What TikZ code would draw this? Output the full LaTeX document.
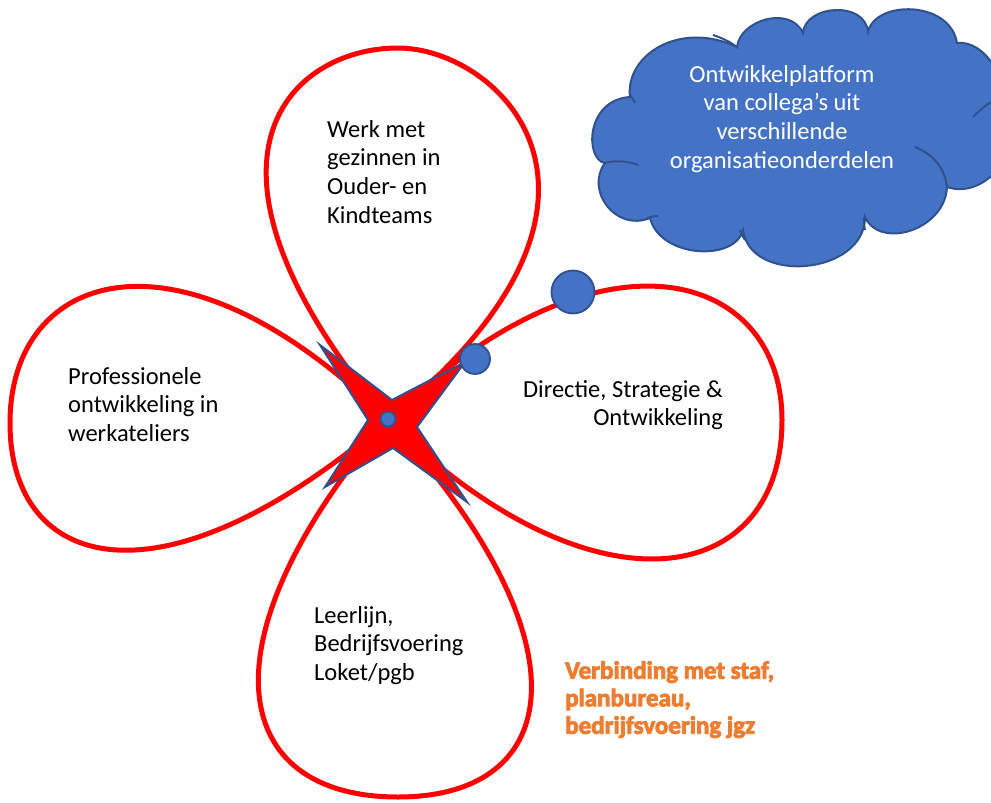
\documentclass[tikz,border=0pt]{standalone}
\usepackage{fontspec}
\setmainfont{Carlito}
\newfontfamily\heavyfont{Carlito}[BoldFeatures={FakeBold=3.5}]
\definecolor{lusblue}{HTML}{4472C4}
\definecolor{lusedge}{HTML}{2F528F}
\definecolor{lusorange}{HTML}{ED7D31}
\begin{document}
\begin{tikzpicture}[x=1pt,y=-1pt,
    petal/.style={draw=red,line width=5pt},
    ster/.style={fill=red,draw=lusedge,line width=2pt,line join=miter},
    knop/.style={circle,fill=lusblue,draw=lusedge,line width=1.8pt,inner sep=0pt},
    txt/.style={inner sep=0pt,font=\fontsize{24.5}{28.7}\selectfont}]
  \useasboundingbox (0,0) rectangle (991,803);
  \coordinate (C) at (388,420);
  % four loops meeting in the middle
  \draw[petal] (C) .. controls (170,160) and (290,48) .. (398,48)
                   .. controls (500,48) and (660,200) .. (C);
  \draw[petal] (C) .. controls (180,215) and (10,270) .. (10,423)
                   .. controls (10,570) and (160,615) .. (C);
  \draw[petal] (C) .. controls (600,215) and (782,270) .. (782,420)
                   .. controls (782,590) and (590,620) .. (C);
  \draw[petal] (C) .. controls (200,640) and (228,797) .. (398,797)
                   .. controls (565,797) and (590,640) .. (C);
  % star on top of the crossing
  \draw[ster] (320,345) -- (392,400) -- (465,362) -- (417,427)
              -- (467,502) -- (393,448) -- (325,487) -- (368,420) -- cycle;
  \node[knop,minimum size=15pt] (hub) at (388,419) {};
  \node[knop,minimum size=30pt] (joint) at (475,359) {};
  \node[knop,minimum size=43pt] (bal) at (573,292) {};
  % cloud
  \begin{scope}
    \clip (0,0) rectangle (991,803);
    \draw[fill=lusblue,draw=lusedge,line width=2pt]
      (630,97) .. controls (625,55) and (680,20) .. (737,47)
      .. controls (740,20) and (790,5) .. (803,33)
      .. controls (805,5) and (865,0) .. (868,32)
      .. controls (875,0) and (950,0) .. (957,43)
      .. controls (985,40) and (1010,80) .. (1005,118)
      .. controls (1025,150) and (985,200) .. (947,187)
      .. controls (945,230) and (880,250) .. (865,217)
      .. controls (865,275) and (750,285) .. (743,230)
      .. controls (735,262) and (660,258) .. (650,218)
      .. controls (615,232) and (585,190) .. (605,163)
      .. controls (585,160) and (585,100) .. (630,97) -- cycle;
    \draw[lusedge,line width=2pt] (605,163) .. controls (615,160) and (628,161) .. (638,165);
    \draw[lusedge,line width=2pt] (647,218) .. controls (650,217) and (655,216) .. (658,216);
    \draw[lusedge,line width=2pt] (740,230) .. controls (741,234) and (743,237) .. (745,240);
    \draw[lusedge,line width=2pt] (864,217) .. controls (864,222) and (864,226) .. (865,230);
    \draw[lusedge,line width=2pt] (915,147) .. controls (935,155) and (945,170) .. (947,187);
    \draw[lusedge,line width=2pt] (973,117) .. controls (980,110) and (986,105) .. (991,102);
    \draw[lusedge,line width=2pt] (713,35) .. controls (722,38) and (731,42) .. (738,48);
    \draw[lusedge,line width=2pt] (630,95) .. controls (632,98) and (634,100) .. (635,103);
  \end{scope}
  % labels
  \node[txt,align=center,anchor=north,text=white] (platform) at (782,65)
    {Ontwikkelplatform\\van collega’s uit\\verschillende\\organisatieonderdelen};
  \node[txt,align=left,anchor=north west] (gezin) at (327,120)
    {Werk met\\gezinnen in\\Ouder- en\\Kindteams};
  \node[txt,align=left,anchor=north west] (prof) at (68,367)
    {Professionele\\ontwikkeling in\\werkateliers};
  \node[txt,align=right,anchor=north east] (dir) at (723,380)
    {Directie, Strategie \&\\Ontwikkeling};
  \node[txt,align=left,anchor=north west] (leer) at (314,606)
    {Leerlijn,\\Bedrijfsvoering\\Loket/pgb};
  \node[inner sep=0pt,align=left,anchor=north west,text=lusorange,
        font=\heavyfont\bfseries\fontsize{25}{27.5}\selectfont] (staf) at (565,661)
    {Verbinding met staf,\\planbureau,\\bedrijfsvoering jgz};
\end{tikzpicture}
\end{document}
